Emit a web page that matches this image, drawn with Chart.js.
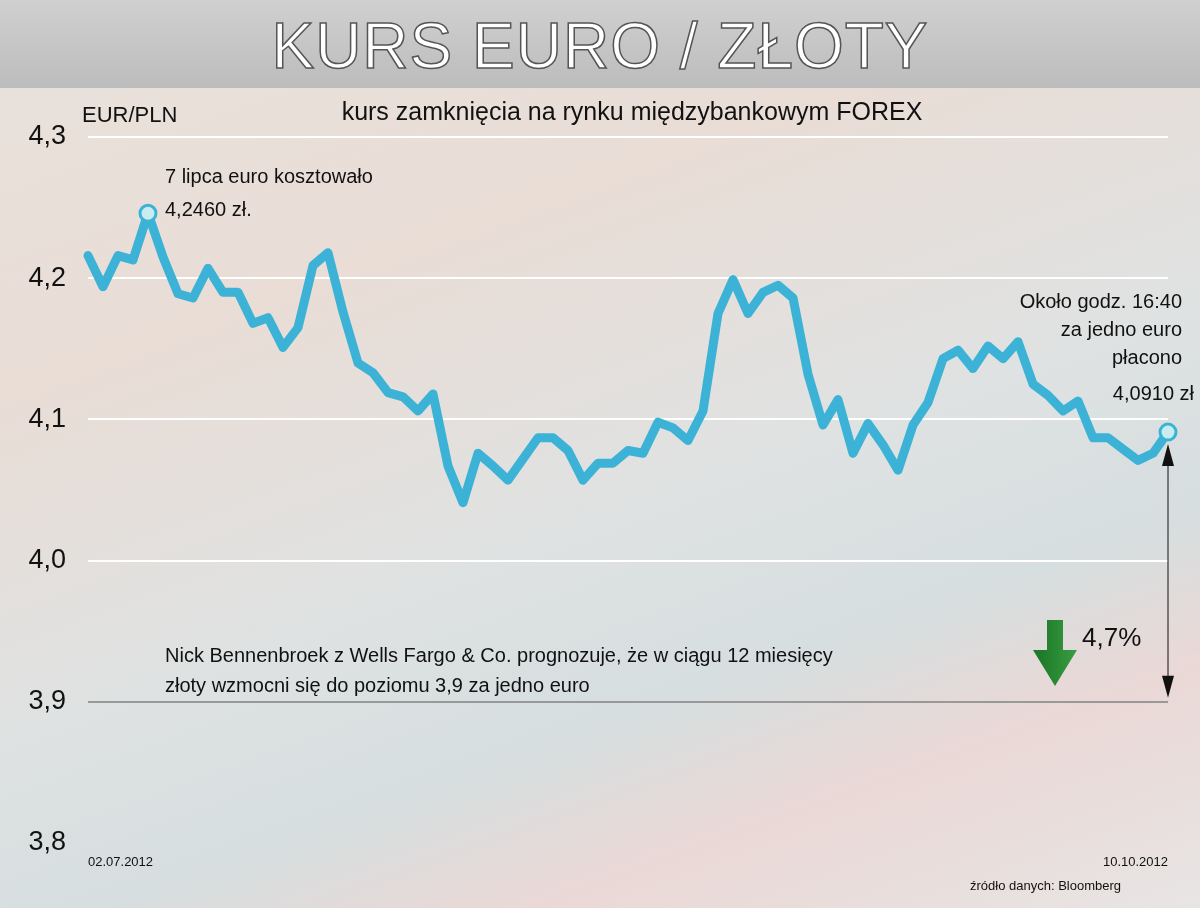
<!DOCTYPE html>
<html><head><meta charset="utf-8">
<script src="https://cdn.jsdelivr.net/npm/chart.js@4"></script>
<style>
html,body{margin:0;padding:0;}
body{width:1200px;height:908px;position:relative;overflow:hidden;font-family:"Liberation Sans",Arial,sans-serif;
background:linear-gradient(160deg,#e8e2dc 0%,#e9ddd6 30%,#dfe2e2 55%,#d6dedf 70%,#ead8d6 82%,#e7e5e4 100%);}
#title{position:absolute;left:0;top:0;width:1200px;height:88px;background:linear-gradient(#d0d0d0,#bcbcbc);
text-align:center;font-size:64px;line-height:92px;color:#fff;-webkit-text-stroke:1.5px #555;letter-spacing:1px;}
canvas{position:absolute;left:0;top:0;}
</style></head><body>
<div id="title">KURS EURO / ZŁOTY</div>
<canvas id="c" width="1200" height="908"></canvas>
<script>
// EUR/PLN closing rates, 02.07.2012 - 10.10.2012
const rates = [4.216,4.194,4.216,4.213,4.246,4.215,4.189,4.186,4.207,4.190,4.190,4.168,4.172,4.151,4.165,4.209,4.218,4.176,
  4.140,4.133,4.119,4.116,4.106,4.118,4.067,4.041,4.076,4.067,4.057,4.072,4.087,4.087,4.078,4.057,4.069,4.069,4.078,4.076,
  4.098,4.094,4.085,4.106,4.175,4.199,4.175,4.190,4.195,4.186,4.132,4.096,4.114,4.076,4.097,4.082,4.064,4.096,4.112,4.143,
  4.149,4.136,4.152,4.143,4.155,4.125,4.117,4.106,4.113,4.087,4.087,4.079,4.071,4.076,4.091];
const firstDate = '02.07.2012', lastDate = '10.10.2012';
const dates = rates.map((v, i) => i === 0 ? firstDate : (i === rates.length - 1 ? lastDate : ''));
const yTicks = [3.8, 3.9, 4.0, 4.1, 4.2, 4.3];
const maxIdx = 4, target = 3.9;
const F = '"Liberation Sans", Arial, sans-serif';

const overlay = {
  id: 'overlay',
  afterDatasetsDraw(chart) {
    const ctx = chart.ctx, x = chart.scales.x, y = chart.scales.y;
    ctx.save();
    ctx.fillStyle = '#111';
    ctx.font = '22px ' + F;
    ctx.fillText('EUR/PLN', 82, 122);
    ctx.font = '25px ' + F;
    ctx.textAlign = 'center';
    ctx.fillText('kurs zamknięcia na rynku międzybankowym FOREX', 632, 120);
    ctx.textAlign = 'left';
    ctx.font = '20px ' + F;
    const mx = x.getPixelForValue(maxIdx), my = y.getPixelForValue(rates[maxIdx]);
    ctx.fillText('7 lipca euro kosztowało', mx + 17, my - 30);
    ctx.fillText(rates[maxIdx].toFixed(4).replace('.', ',') + ' zł.', mx + 17, my + 3);
    ctx.textAlign = 'right';
    ctx.fillText('Około godz. 16:40', 1182, 308);
    ctx.fillText('za jedno euro', 1182, 336);
    ctx.fillText('płacono', 1182, 364);
    ctx.fillText(rates[rates.length - 1].toFixed(4).replace('.', ',') + ' zł', 1194, 400);
    ctx.textAlign = 'left';
    ctx.fillText('Nick Bennenbroek z Wells Fargo & Co. prognozuje, że w ciągu 12 miesięcy', 165, 662);
    ctx.fillText('złoty wzmocni się do poziomu 3,9 za jedno euro', 165, 692);
    ctx.font = '26px ' + F;
    ctx.fillText('4,7%', 1082, 646);
    // double arrow from last value to target
    const lx = x.getPixelForValue(rates.length - 1);
    const y1 = y.getPixelForValue(rates[rates.length - 1]) + 12, y2 = y.getPixelForValue(target) - 4;
    ctx.strokeStyle = '#111'; ctx.lineWidth = 1;
    ctx.beginPath(); ctx.moveTo(lx, y1 + 18); ctx.lineTo(lx, y2 - 18); ctx.stroke();
    ctx.fillStyle = '#111';
    ctx.beginPath(); ctx.moveTo(lx, y1); ctx.lineTo(lx - 6, y1 + 22); ctx.lineTo(lx + 6, y1 + 22); ctx.fill();
    ctx.beginPath(); ctx.moveTo(lx, y2); ctx.lineTo(lx - 6, y2 - 22); ctx.lineTo(lx + 6, y2 - 22); ctx.fill();
    // green down arrow
    const g = ctx.createLinearGradient(1040, 0, 1080, 0);
    g.addColorStop(0, '#1f7a2a'); g.addColorStop(1, '#3aa142');
    ctx.fillStyle = g;
    ctx.beginPath();
    ctx.moveTo(1047, 620); ctx.lineTo(1063, 620); ctx.lineTo(1063, 650); ctx.lineTo(1077, 650);
    ctx.lineTo(1055, 686); ctx.lineTo(1033, 650); ctx.lineTo(1047, 650); ctx.closePath(); ctx.fill();
    ctx.fillStyle = '#111';
    ctx.font = '13px ' + F;
    ctx.fillText('źródło danych: Bloomberg', 970, 890);
    ctx.restore();
  }
};

new Chart(document.getElementById('c'), {
  type: 'line',
  data: { labels: dates, datasets: [{
    data: rates, borderColor: '#3cb3d6', borderWidth: 9, tension: 0, borderJoinStyle: 'round', borderCapStyle: 'round',
    pointRadius: c => (c.dataIndex === maxIdx || c.dataIndex === rates.length - 1) ? 8 : 0,
    pointBackgroundColor: '#c9ecef', pointBorderColor: '#3cb3d6', pointBorderWidth: 3
  }]},
  options: {
    responsive: false, animation: false, events: [],
    layout: { padding: { top: 137, right: 32, left: 0, bottom: 0 } },
    plugins: { legend: { display: false }, tooltip: { enabled: false } },
    scales: {
      x: { offset: false, grid: { display: false }, border: { display: false },
        ticks: { autoSkip: false, maxRotation: 0, align: 'inner', color: '#111', font: { size: 13, family: F }, padding: 4,
          callback: (v, i) => dates[i] },
        afterFit: s => { s.height = 65; } },
      y: { min: 3.8, max: 4.3, afterBuildTicks: s => { s.ticks = yTicks.map(v => ({ value: v })); },
        border: { display: false },
        grid: { drawTicks: false, lineWidth: 2, color: c => c.tick.value === target ? '#999' : (c.tick.value === 3.8 ? 'rgba(0,0,0,0)' : '#fff') },
        ticks: { color: '#111', font: { size: 27, family: F }, padding: 22,
          callback: v => v.toFixed(1).replace('.', ',') },
        afterFit: s => { s.width = 88; } }
    }
  },
  plugins: [overlay]
});
</script>
</body></html>
